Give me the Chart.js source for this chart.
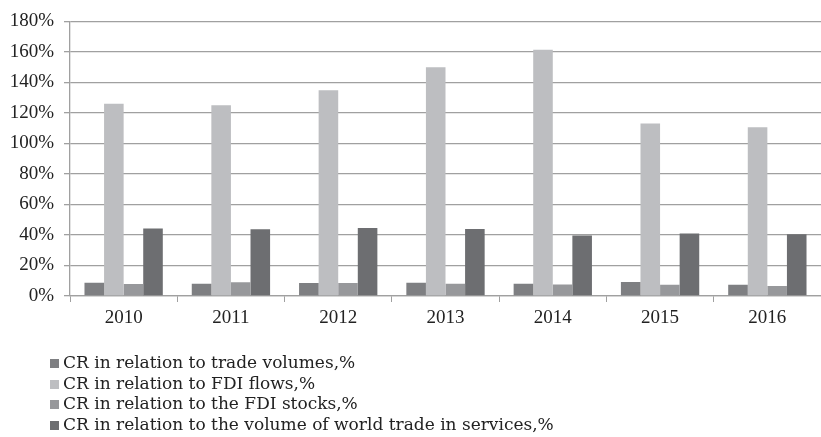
<!DOCTYPE html>
<html>
<head>
<meta charset="utf-8">
<script src="https://cdn.jsdelivr.net/npm/chart.js@4/dist/chart.umd.min.js"></script>
<style>
  html, body { margin: 0; padding: 0; background: #fff; }
  #wrap { position: relative; width: 821px; height: 437px; }
  #legend { position: absolute; left: 50px; top: 352px; font-family: "DejaVu Serif", serif; font-size: 17px; color: #222; }
  #legend div { height: 20.7px; line-height: 20.7px; white-space: nowrap; }
  #legend span { display: inline-block; width: 9px; height: 9px; margin-right: 4px; vertical-align: 0px; }
</style>
</head>
<body>
<div id="wrap">
  <canvas id="chart" width="821" height="437"></canvas>
  <div id="legend"></div>
</div>
<script>
var years = ['2010', '2011', '2012', '2013', '2014', '2015', '2016'];
var seriesNames = [
    'CR in relation to trade volumes,%',
    'CR in relation to FDI flows,%',
    'CR in relation to the FDI stocks,%',
    'CR in relation to the volume of world trade in services,%'
];
var tradeVolumes = [8.7, 8.0, 8.5, 8.7, 8.0, 9.2, 7.4];
var fdiFlows = [126, 125, 134.8, 150, 161.4, 113, 110.6];
var fdiStocks = [7.9, 9.0, 8.5, 8.0, 7.6, 7.4, 6.5];
var servicesTrade = [44.3, 43.8, 44.5, 44.0, 39.7, 41.0, 40.4];
var colors = ['#7e7f82', '#bdbec1', '#97989b', '#6d6e71'];

var font = { family: 'Liberation Serif', size: 19 };

function makeSet(i, values) {
    return {
        label: seriesNames[i],
        data: values,
        backgroundColor: colors[i],
        borderWidth: 0,
        categoryPercentage: 0.73,
        barPercentage: 1
    };
}

var ctx = document.getElementById('chart').getContext('2d');
var myChart = new Chart(ctx, {
    type: 'bar',
    data: {
        labels: years,
        datasets: [
            makeSet(0, tradeVolumes),
            makeSet(1, fdiFlows),
            makeSet(2, fdiStocks),
            makeSet(3, servicesTrade)
        ]
    },
    options: {
        responsive: false,
        animation: false,
        layout: { padding: { top: 21, right: 0, bottom: 0, left: 0 } },
        plugins: {
            legend: { display: false },
            tooltip: { enabled: false }
        },
        scales: {
            x: {
                afterFit: function (s) { s.height = 141; },
                grid: { display: true, drawOnChartArea: false, color: '#a0a0a0', tickLength: 6 },
                border: { color: '#a0a0a0', width: 1.3 },
                ticks: { font: font, color: '#222', padding: 5 }
            },
            y: {
                min: 0,
                max: 180,
                afterFit: function (s) { s.width = 70; },
                grid: { color: '#a0a0a0', lineWidth: 1.3, tickLength: 6 },
                border: { color: '#a0a0a0', width: 1.3 },
                ticks: {
                    stepSize: 20,
                    font: font,
                    color: '#222',
                    padding: 10,
                    callback: function (v) { return v + '%'; }
                }
            }
        }
    }
});

// legend list, one entry per line under the chart
var legendBox = document.getElementById('legend');
myChart.data.datasets.forEach(function (ds) {
    var row = document.createElement('div');
    var mark = document.createElement('span');
    mark.style.background = ds.backgroundColor;
    row.appendChild(mark);
    row.appendChild(document.createTextNode(ds.label));
    legendBox.appendChild(row);
});
</script>
</body>
</html>
